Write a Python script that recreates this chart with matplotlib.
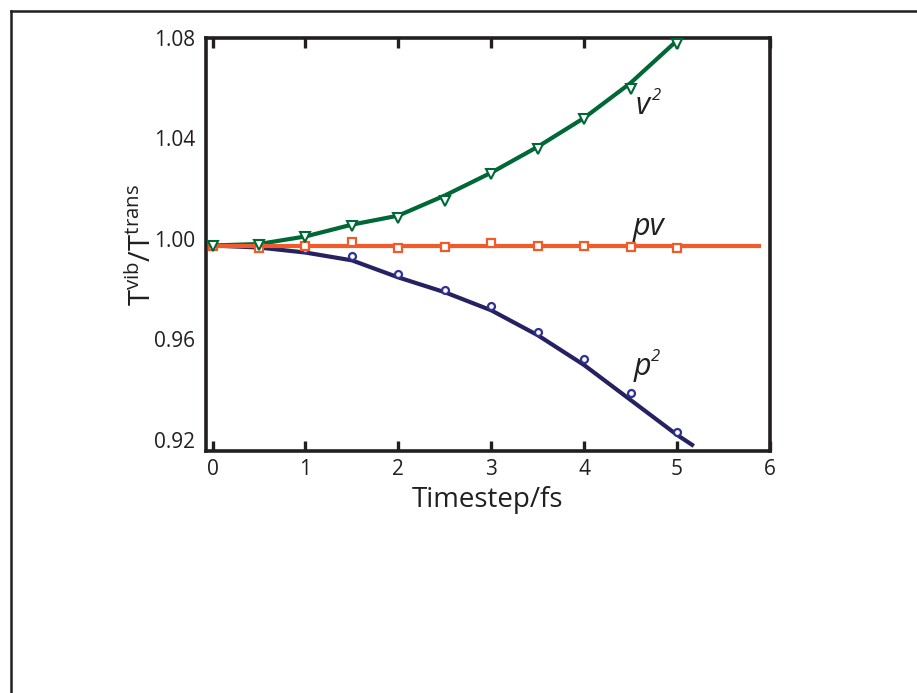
import matplotlib
matplotlib.use("Agg")
import matplotlib.pyplot as plt
from matplotlib.lines import Line2D

plt.rcParams['font.family'] = ['Open Sans', 'DejaVu Sans']
plt.rcParams['mathtext.fontset'] = 'custom'
plt.rcParams['mathtext.rm'] = 'Open Sans'
plt.rcParams['mathtext.it'] = 'Open Sans:italic'

# ---- data ----
x_pts = [0, 0.5, 1, 1.5, 2, 2.5, 3, 3.5, 4, 4.5, 5]
v2_pts = [0.9974, 0.9978, 1.0006, 1.0053, 1.0085, 1.0153, 1.0260, 1.0359, 1.0478, 1.0598, 1.0776]
pv_pts = [0.9974, 0.9964, 0.9974, 0.9986, 0.9963, 0.9967, 0.9982, 0.9974, 0.9974, 0.9967, 0.9963]
p2_pts = [0.9974, 0.9970, 0.9962, 0.9931, 0.9859, 0.9796, 0.9732, 0.9629, 0.9522, 0.9387, 0.9232]

v2_curve_x = [0, 0.5, 1, 1.5, 2, 2.5, 3, 3.5, 4, 4.5, 5.0]
v2_curve_y = [0.9974, 0.9980, 1.0010, 1.0057, 1.0093, 1.0173, 1.0264, 1.0367, 1.0482, 1.0621, 1.0790]
pv_curve_x = [0, 5.9]
pv_curve_y = [0.9974, 0.9974]
p2_curve_x = [0, 0.5, 1, 1.5, 2, 2.5, 3, 3.5, 4, 4.5, 5, 5.18]
p2_curve_y = [0.9974, 0.9966, 0.9946, 0.9915, 0.9847, 0.9788, 0.9716, 0.9617, 0.9498, 0.9359, 0.9220, 0.9176]

x_ticks = [0, 1, 2, 3, 4, 5, 6]
y_ticks = [0.92, 0.96, 1.00, 1.04, 1.08]
y_ticklabels = ['0.92', '0.96', '1.00', '1.04', '1.08']

labels = [('v', 4.55, 1.0498), ('pv', 4.52, 1.0017), ('p', 4.53, 0.9457)]

green = '#006837'
orange = '#F15A29'
navy = '#262262'
blue = '#2E3192'
ink = '#231F20'

fig = plt.figure(figsize=(9.17, 6.93), dpi=100)
ax = fig.add_axes([206/917, 1-451/693, (770-206)/917, (451-38)/693])

ax.plot(p2_curve_x, p2_curve_y, color=navy, lw=3.0, solid_capstyle='butt', zorder=2)
ax.plot(v2_curve_x, v2_curve_y, color=green, lw=3.0, solid_capstyle='butt', zorder=2)
ax.plot(pv_curve_x, pv_curve_y, color=orange, lw=3.0, solid_capstyle='butt', zorder=3)

ax.plot(x_pts, p2_pts, ls='none', marker='o', ms=5, mfc='white', mec=blue, mew=1.6, zorder=4, clip_on=False)
ax.plot(x_pts, pv_pts, ls='none', marker='s', ms=6, mfc='white', mec=orange, mew=1.6, zorder=4, clip_on=False)
ax.plot(x_pts, v2_pts, ls='none', marker='v', ms=7, mfc='white', mec=green, mew=1.5, zorder=5, clip_on=False)

ax.set_xlim(-0.07, 6.0)
ax.set_ylim(0.9156, 1.08)

ax.set_xticks(x_ticks)
ax.set_xticklabels([str(t) for t in x_ticks])
ax.set_yticks(y_ticks)
ax.set_yticklabels(y_ticklabels)
ax.set_yticks([0.96, 1.00, 1.04], minor=True)

ax.tick_params(axis='x', which='major', direction='in', length=7, width=2.4, top=True,
               bottom=True, labelsize=15, pad=6, colors=ink)
ax.tick_params(axis='y', which='major', direction='in', length=0, labelsize=15, pad=8,
               colors=ink)
ax.tick_params(axis='y', which='minor', direction='in', length=7, width=2.4, left=True,
               right=False, colors=ink)

for s in ax.spines.values():
    s.set_linewidth(2.6)
    s.set_color(ink)

ax.set_xlabel('Timestep/fs', fontsize=20, labelpad=4, color=ink)
ax.set_ylabel(r'T$^{\mathrm{vib}}$/T$^{\mathrm{trans}}$', fontsize=21, labelpad=-3, color=ink)

for txt, lx, ly in labels:
    ax.text(lx, ly, txt, fontsize=22, style='italic', color=ink, ha='left', va='baseline')
ax.annotate('2', xy=(labels[0][1], labels[0][2]), xytext=(12, 10), textcoords='offset points',
            fontsize=12, style='italic', color=ink, ha='left', va='baseline')
ax.annotate('2', xy=(labels[2][1], labels[2][2]), xytext=(12.5, 10), textcoords='offset points',
            fontsize=12, style='italic', color=ink, ha='left', va='baseline')

# outer frame (left and top edges)
fig.add_artist(Line2D([10.5/917, 10.5/917], [0, 1-11/693], color=ink, lw=1.8, transform=fig.transFigure))
fig.add_artist(Line2D([10.5/917, 1.0], [1-11/693, 1-11/693], color=ink, lw=1.8, transform=fig.transFigure))

fig.savefig('out.png', dpi=100)
